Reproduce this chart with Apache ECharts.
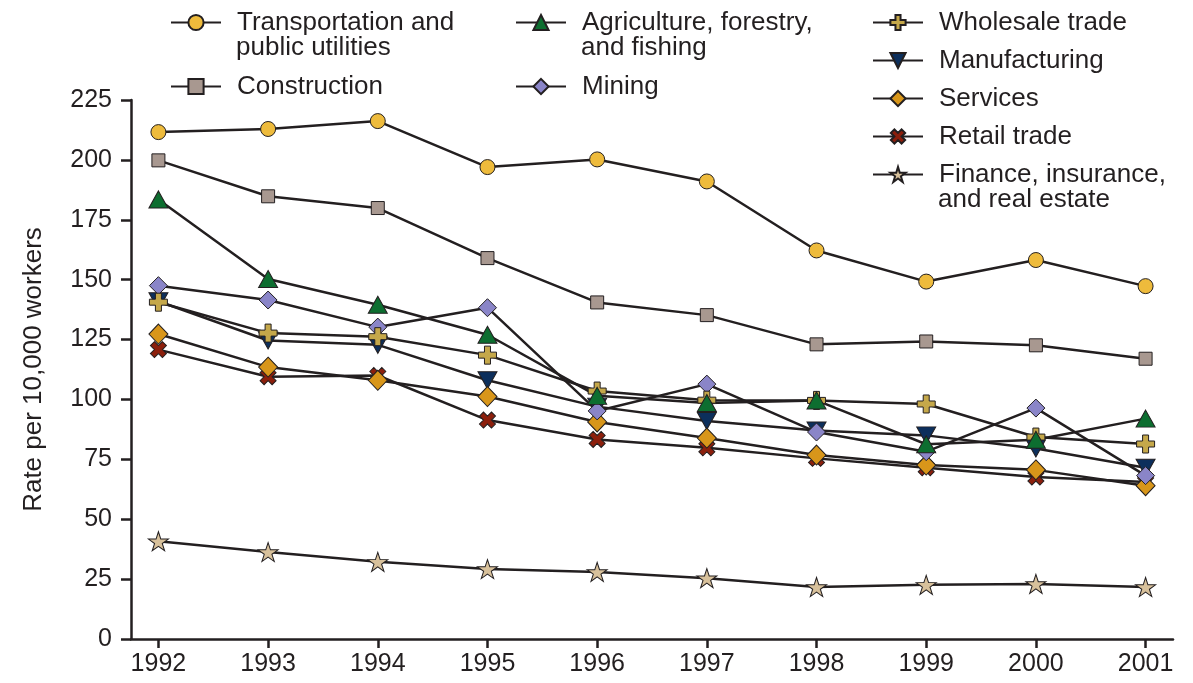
<!DOCTYPE html>
<html>
<head>
<meta charset="utf-8">
<script src="https://cdn.jsdelivr.net/npm/echarts@6/dist/echarts.min.js"></script>
<style>html,body{margin:0;padding:0;background:#fff}#c{width:1193px;height:683px}</style>
</head>
<body>
<div id="c"></div>
<script>
const years = [1992,1993,1994,1995,1996,1997,1998,1999,2000,2001];
const yTicks = [0,25,50,75,100,125,150,175,200,225];

const transportation = [211.6,212.9,216.2,197.0,200.2,191.0,162.2,149.2,158.2,147.3];
const construction   = [199.8,184.8,179.9,159.0,140.5,135.2,123.0,124.2,122.6,117.0];
const agriculture    = [183.5,150.3,139.5,127.0,101.5,98.5,99.6,81.3,83.2,92.0];
const mining         = [147.5,141.5,130.2,138.3,95.2,106.4,86.4,78.2,96.4,68.2];
const wholesale      = [140.6,127.7,126.2,118.5,103.5,99.7,99.6,98.1,84.3,81.4];
const manufacturing  = [141.0,124.6,122.8,108.0,97.0,91.0,87.0,85.0,79.5,71.5];
const services       = [127.3,113.5,108.0,101.2,90.6,83.9,76.8,72.6,70.6,64.0];
const retail         = [120.8,109.5,110.0,91.4,83.3,79.8,75.4,71.5,67.6,65.5];
const finance        = [40.8,36.3,32.2,29.2,28.0,25.4,21.7,22.6,23.0,21.7];

const INK = '#231f20';
const FONT = 'Liberation Sans, Arial, sans-serif';
const PLUS = 'path://M-1,-3H1V-1H3V1H1V3H-1V1H-3V-1H-1Z';
const STAR = 'path://M0,-100L22.45,-30.9L95.1,-30.9L36.33,11.8L58.78,80.9L0,38.2L-58.78,80.9L-36.33,11.8L-95.1,-30.9L-22.45,-30.9Z';

const defs = [
  {name:'Manufacturing', data:manufacturing, color:'#0c2f5c', symbol:'triangle', size:[19,17], rotate:180},
  {name:'Retail trade', data:retail, color:'#8c1f0c', symbol:PLUS, size:17, rotate:45},
  {name:'Services', data:services, color:'#d8961a', symbol:'diamond', size:[19,20], rotate:0},
  {name:'Mining', data:mining, color:'#8a85c8', symbol:'diamond', size:[18,18], rotate:0},
  {name:'Wholesale trade', data:wholesale, color:'#c5a84a', symbol:PLUS, size:18, rotate:0},
  {name:'Agriculture, forestry, and fishing', data:agriculture, color:'#0d6e30', symbol:'triangle', size:[19,17], rotate:0},
  {name:'Construction', data:construction, color:'#a89890', symbol:'rect', size:13, rotate:0},
  {name:'Transportation and public utilities', data:transportation, color:'#eebb3c', symbol:'circle', size:15, rotate:0},
  {name:'Finance, insurance, and real estate', data:finance, color:'#d8c19b', symbol:STAR, size:[20,19], rotate:0}
];

// legend text: first line (in legend) and optional second line
const legendLines = {
  'Transportation and public utilities': ['Transportation and', 'public utilities'],
  'Construction': ['Construction'],
  'Agriculture, forestry, and fishing': ['Agriculture, forestry,', 'and fishing'],
  'Mining': ['Mining'],
  'Wholesale trade': ['Wholesale trade'],
  'Manufacturing': ['Manufacturing'],
  'Services': ['Services'],
  'Retail trade': ['Retail trade'],
  'Finance, insurance, and real estate': ['Finance, insurance,', 'and real estate']
};
// legend placement: [name, left, iconCenterY]
const legendPlaces = [
  ['Transportation and public utilities',170,21],
  ['Construction',170,85],
  ['Agriculture, forestry, and fishing',515,21],
  ['Mining',515,85],
  ['Wholesale trade',872,21],
  ['Manufacturing',872,59],
  ['Services',872,97],
  ['Retail trade',872,135],
  ['Finance, insurance, and real estate',872,173]
];

const LH = 26, ITEM_W = 50, TXT_PAD = 11, LFS = 26;
const legends = legendPlaces.map(([n, left, cy]) => ({
  data: [n],
  left: left,
  top: cy - 11.5,
  padding: 0,
  itemWidth: ITEM_W,
  itemHeight: 19,
  selectedMode: false,
  formatter: (name) => legendLines[name][0],
  textStyle: {fontFamily: FONT, fontSize: LFS, color: INK, lineHeight: LH, padding: [0, 0, 0, TXT_PAD]}
}));
const graphics = legendPlaces.filter(([n]) => legendLines[n].length > 1).map(([n, left, cy]) => ({
  type: 'text',
  left: left + ITEM_W + 5 + TXT_PAD,
  top: cy + LH - 12,
  style: {text: legendLines[n][1], font: LFS + 'px ' + FONT, fill: INK}
}));

const series = defs.map(d => ({
  name: d.name,
  type: 'line',
  data: d.data.map((v, i) => [years[i], v]),
  symbol: d.symbol,
  symbolSize: d.size,
  symbolRotate: d.rotate,
  showAllSymbol: true,
  lineStyle: {color: INK, width: 2.5},
  itemStyle: {color: d.color, borderColor: INK, borderWidth: 1},
  emphasis: {disabled: true},
  animation: false
}));

const chart = echarts.init(document.getElementById('c'), null, {renderer: 'canvas'});
chart.setOption({
  backgroundColor: '#fff',
  animation: false,
  textStyle: {fontFamily: FONT},
  legend: legends,
  graphic: graphics,
  grid: {left: 131, right: 20, top: 100, bottom: 44, containLabel: false},
  xAxis: {
    type: 'value',
    min: 1991.75,
    max: 2001.25,
    splitLine: {show: false},
    axisLine: {show: true, onZero: false, lineStyle: {color: INK, width: 2.5}},
    axisTick: {show: true, length: 9, customValues: years, lineStyle: {color: INK, width: 2.5}},
    axisLabel: {customValues: years, margin: 13, fontSize: 25, color: INK, fontFamily: FONT, formatter: v => String(v)}
  },
  yAxis: {
    type: 'value',
    min: 0,
    max: 225,
    interval: 25,
    name: 'Rate per 10,000 workers',
    nameLocation: 'middle',
    nameGap: 84,
    nameRotate: 90,
    nameTextStyle: {fontSize: 26, color: INK, fontFamily: FONT},
    splitLine: {show: false},
    axisLine: {show: true, lineStyle: {color: INK, width: 2.5}},
    axisTick: {show: true, length: 10, lineStyle: {color: INK, width: 2.5}},
    axisLabel: {margin: 19, fontSize: 25, color: INK, fontFamily: FONT, formatter: v => yTicks.indexOf(v) >= 0 ? String(v) : ''}
  },
  series: series
});
</script>
</body>
</html>
